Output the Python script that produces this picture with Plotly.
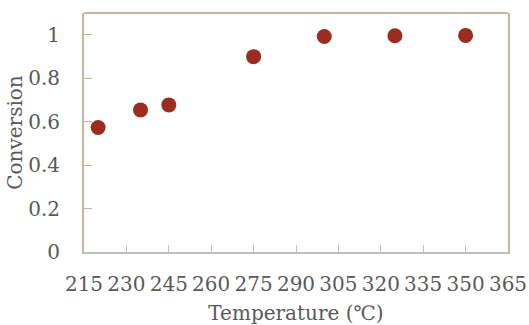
import plotly.graph_objects as go

# Conversion measured at each reaction temperature
temperature = [220, 235, 245, 275, 300, 325, 350]
conversion = [0.573, 0.654, 0.677, 0.899, 0.992, 0.995, 0.997]

x_ticks = [215, 230, 245, 260, 275, 290, 305, 320, 335, 350, 365]
y_ticks = [0, 0.2, 0.4, 0.6, 0.8, 1]
y_tick_text = ["0", "0.2", "0.4", "0.6", "0.8", "1"]

font_family = "DejaVu Serif"
text_gray = "#595959"
tan = "#C4B89C"
gray = "#BFBFBF"

fig = go.Figure(
    go.Scatter(
        x=temperature,
        y=conversion,
        mode="markers",
        marker=dict(size=15, color="#9B2D20", line=dict(width=0)),
        hoverinfo="x+y",
    )
)

fig.update_layout(
    width=529,
    height=325,
    margin=dict(l=84, r=21, t=13, b=73),
    paper_bgcolor="white",
    plot_bgcolor="white",
    showlegend=False,
    font=dict(family=font_family, color=text_gray),
    shapes=[
        dict(type="line", xref="paper", yref="paper", x0=0, x1=1, y0=1, y1=1,
             line=dict(color=tan, width=2)),
    ],
)

fig.update_xaxes(
    range=[215, 365],
    tickvals=x_ticks,
    ticktext=[str(v) for v in x_ticks],
    automargin=False,
    showgrid=False,
    zeroline=False,
    showline=True,
    linecolor=gray,
    linewidth=2,
    ticks="inside",
    ticklen=7,
    tickcolor=gray,
    tickwidth=1,
    ticklabelstandoff=13,
    tickfont=dict(family=font_family, size=20, color=text_gray),
    title=dict(text="Temperature (℃)", font=dict(family=font_family, size=20, color=text_gray), standoff=12),
)

fig.update_yaxes(
    range=[0, 1.1],
    tickvals=y_ticks,
    ticktext=y_tick_text,
    automargin=False,
    showgrid=False,
    zeroline=False,
    showline=True,
    mirror=True,
    linecolor=tan,
    linewidth=2,
    ticks="inside",
    ticklen=8,
    tickcolor=tan,
    tickwidth=1,
    ticklabelstandoff=18,
    tickfont=dict(family=font_family, size=20, color=text_gray),
    title=dict(text="Conversion", font=dict(family=font_family, size=20, color=text_gray), standoff=0),
)

fig.write_html("out.html")
